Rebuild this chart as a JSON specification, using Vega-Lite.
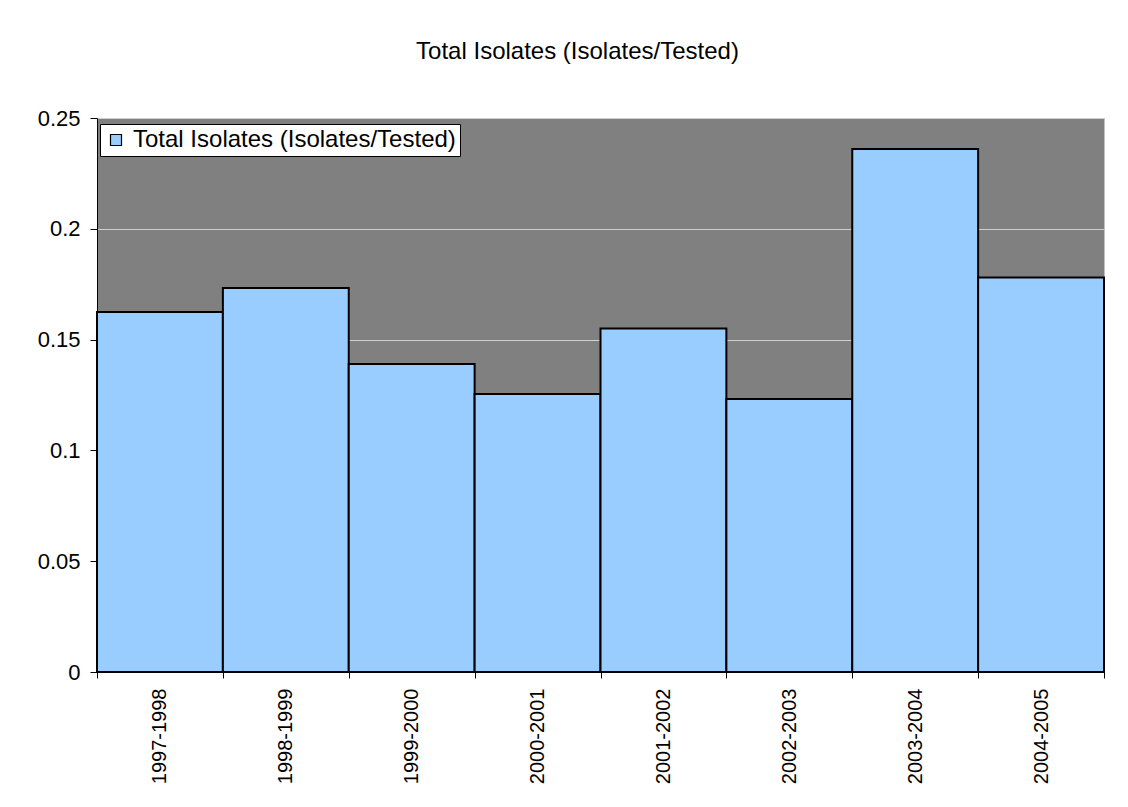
{
  "$schema": "https://vega.github.io/schema/vega-lite/v6.json",
  "autosize": {"type": "none"},
  "padding": {"left": 97, "top": 118, "right": 24, "bottom": 135},
  "width": 1007,
  "height": 554,
  "background": "white",
  "title": {
    "text": "Total Isolates (Isolates/Tested)",
    "font": "Liberation Sans",
    "fontSize": 24,
    "fontWeight": "normal",
    "color": "black",
    "anchor": "middle",
    "frame": "group",
    "dx": -23,
    "offset": 43
  },
  "data": {
    "values": [
      {"season": "1997-1998", "rate": 0.1625, "series": "Total Isolates (Isolates/Tested)"},
      {"season": "1998-1999", "rate": 0.1733, "series": "Total Isolates (Isolates/Tested)"},
      {"season": "1999-2000", "rate": 0.139, "series": "Total Isolates (Isolates/Tested)"},
      {"season": "2000-2001", "rate": 0.1255, "series": "Total Isolates (Isolates/Tested)"},
      {"season": "2001-2002", "rate": 0.155, "series": "Total Isolates (Isolates/Tested)"},
      {"season": "2002-2003", "rate": 0.1232, "series": "Total Isolates (Isolates/Tested)"},
      {"season": "2003-2004", "rate": 0.236, "series": "Total Isolates (Isolates/Tested)"},
      {"season": "2004-2005", "rate": 0.178, "series": "Total Isolates (Isolates/Tested)"}
    ]
  },
  "mark": {"type": "bar", "stroke": "black", "strokeWidth": 2},
  "encoding": {
    "x": {
      "field": "season",
      "type": "nominal",
      "sort": null,
      "scale": {"paddingInner": 0, "paddingOuter": 0},
      "axis": {
        "title": null,
        "tickBand": "extent",
        "labelAngle": -90,
        "labelAlign": "right",
        "labelBaseline": "middle",
        "labelFont": "Liberation Sans",
        "labelFontSize": 20,
        "labelColor": "black",
        "labelPadding": 10,
        "tickSize": 6,
        "tickColor": "black",
        "domainColor": "black",
        "grid": false
      }
    },
    "y": {
      "field": "rate",
      "type": "quantitative",
      "scale": {"domain": [0, 0.25], "nice": false},
      "axis": {
        "title": null,
        "values": [0, 0.05, 0.1, 0.15, 0.2, 0.25],
        "format": "~g",
        "labelFont": "Liberation Sans",
        "labelFontSize": 22,
        "labelColor": "black",
        "labelPadding": 10,
        "tickSize": 7,
        "tickColor": "black",
        "domainColor": "black",
        "grid": true,
        "gridColor": "#d0d0d0",
        "gridWidth": 1
      }
    },
    "color": {
      "field": "series",
      "type": "nominal",
      "scale": {"range": ["#99ccff"]},
      "legend": {
        "title": null,
        "orient": "none",
        "legendX": 3,
        "legendY": 6,
        "padding": 4,
        "fillColor": "white",
        "strokeColor": "black",
        "symbolType": "square",
        "symbolSize": 121,
        "symbolStrokeColor": "black",
        "symbolStrokeWidth": 1.2,
        "symbolOpacity": 1,
        "labelFont": "Liberation Sans",
        "labelFontSize": 24,
        "labelColor": "black",
        "labelLimit": 0,
        "labelOffset": 5
      }
    }
  },
  "config": {
    "view": {"fill": "#808080", "stroke": "#c0c0c0", "strokeWidth": 1}
  }
}
